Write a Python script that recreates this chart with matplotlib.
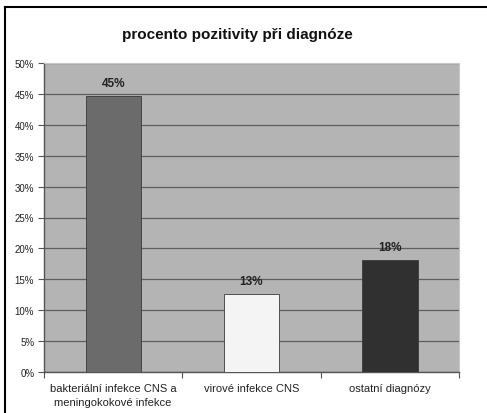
import matplotlib.pyplot as plt
from matplotlib.lines import Line2D

plt.rcParams['font.family'] = ['Liberation Sans', 'DejaVu Sans']

categories = ['bakteriální infekce CNS a\nmeningokokové infekce',
              'virové infekce CNS',
              'ostatní diagnózy']
values = [44.6, 12.6, 18.1]
bar_colors = ['#6b6b6b', '#f4f4f4', '#303030']
y_ticks = [0, 5, 10, 15, 20, 25, 30, 35, 40, 45, 50]

fig = plt.figure(figsize=(4.87, 4.14), dpi=100)
ax = fig.add_axes([44 / 487, 1 - 373 / 414, 415 / 487, 309 / 414])

ax.set_facecolor('#b4b4b4')
x = range(len(categories))
ax.bar(x, values, width=0.4, color=bar_colors, edgecolor='#3a3a3a',
       linewidth=0.6, zorder=3)

for i, v in enumerate(values):
    ax.text(i, v + 1.2, '%d%%' % round(v), ha='center', va='bottom',
            fontsize=8.5, fontweight='bold', color='#222222', zorder=4)

ax.set_xlim(-0.5, 2.5)
ax.set_ylim(0, 50)
ax.set_yticks(y_ticks)
ax.set_yticklabels(['%d%%' % t for t in y_ticks], fontsize=7, color='#222222')
ax.yaxis.grid(True, color='#5e5e5e', linewidth=0.9, zorder=1)
ax.set_axisbelow(True)

# category labels between boundary ticks, Excel style
ax.set_xticks([-0.5, 0.5, 1.5, 2.5])
ax.set_xticklabels([])
ax.set_xticks(list(x), minor=True)
ax.set_xticklabels(categories, minor=True, fontsize=8, color='#222222',
                   linespacing=1.5)
ax.tick_params(axis='x', which='minor', length=0, pad=8)
ax.tick_params(axis='x', which='major', length=4, color='#555555')
ax.tick_params(axis='y', length=4, color='#555555', pad=3)

for s in ['left', 'bottom']:
    ax.spines[s].set_color('#555555')
    ax.spines[s].set_linewidth(1.0)
ax.spines['top'].set_color('#c8c8c8')
ax.spines['right'].set_color('#c8c8c8')

fig.text(237 / 487, 1 - 35 / 414, 'procento pozitivity při diagnóze', ha='center',
         va='center', fontsize=11, fontweight='bold', color='#111111')

# outer frame: top and left edges
fig.add_artist(Line2D([5 / 487, 5 / 487], [0, 1 - 8 / 414],
                      transform=fig.transFigure, color='black', linewidth=1.5))
fig.add_artist(Line2D([5 / 487, 1], [1 - 8 / 414, 1 - 8 / 414],
                      transform=fig.transFigure, color='black', linewidth=1.5))

fig.savefig('out.png', dpi=100)
